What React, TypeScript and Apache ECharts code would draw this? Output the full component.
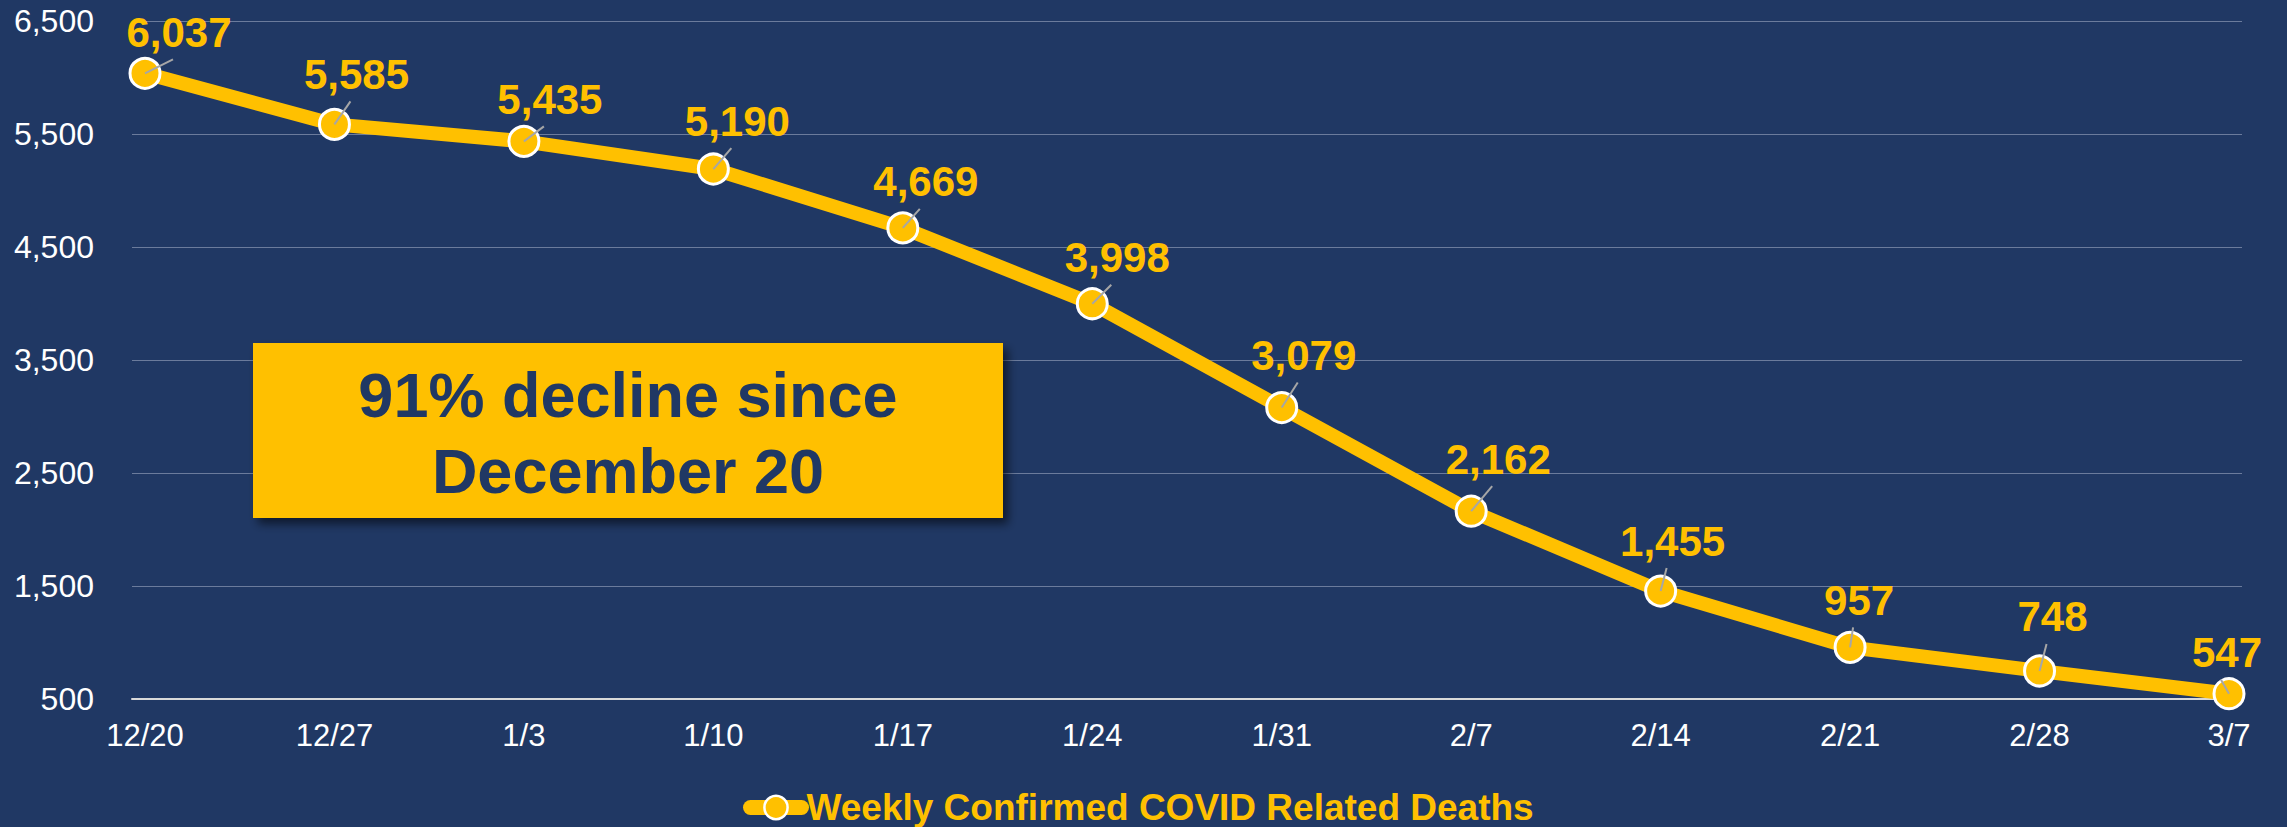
import React, { useEffect, useRef } from "react";
import * as echarts from "echarts";

const categories = ["12/20", "12/27", "1/3", "1/10", "1/17", "1/24", "1/31", "2/7", "2/14", "2/21", "2/28", "3/7"];
const deaths = [6037, 5585, 5435, 5190, 4669, 3998, 3079, 2162, 1455, 957, 748, 547];
const seriesName = "Weekly Confirmed COVID Related Deaths";
const yMin = 500;
const yMax = 6500;
const yInterval = 1000;
const annotationLines = ["91% decline since", "December 20"];

// label placement (style, not data): offset of each data label from its point
const labelOffsets: number[][] = [
  [34, -41], [22, -50], [26, -42], [24, -48], [23, -46], [25, -46],
  [22, -52], [27, -52], [12, -50], [9, -47], [13, -54], [-2, -41],
];

const BG = "#203864";
const GOLD = "#FFC000";
const FONT = "Arial, 'Liberation Sans', sans-serif";
const fmt = (v: number) => Number(v).toLocaleString("en-US");

export default function App() {
  const ref = useRef<HTMLDivElement>(null);
  useEffect(() => {
    if (!ref.current) return;
    const chart = echarts.init(ref.current, undefined, { renderer: "svg" });
    const option: any = {
      animation: false,
      backgroundColor: BG,
      textStyle: { fontFamily: FONT },
      grid: [
        { left: 132, right: 45, top: 21, bottom: 128, containLabel: false },
        { left: 145, right: 58, top: 21, bottom: 128, containLabel: false },
      ],
      xAxis: [
        {
          gridIndex: 0, type: "value", min: 0, max: 1,
          axisLabel: { show: false }, axisTick: { show: false }, splitLine: { show: false },
          axisLine: { show: true, lineStyle: { color: "#d9d9d9", width: 2 } },
        },
        {
          gridIndex: 1, type: "category", data: categories, boundaryGap: false,
          axisLine: { show: false }, axisTick: { show: false }, splitLine: { show: false },
          axisLabel: { color: "#ffffff", fontSize: 31, fontFamily: FONT, margin: 21, interval: 0 },
        },
      ],
      yAxis: [
        {
          gridIndex: 0, type: "value", min: yMin, max: yMax, interval: yInterval,
          axisLine: { show: false }, axisTick: { show: false },
          axisLabel: { color: "#ffffff", fontSize: 32, fontFamily: FONT, margin: 38, formatter: (v: number) => fmt(v) },
          splitLine: { show: true, lineStyle: { color: "#6b7b9c", width: 1 } },
        },
        {
          gridIndex: 1, type: "value", min: yMin, max: yMax, interval: yInterval, show: false,
          splitLine: { show: false },
        },
      ],
      legend: {
        data: [seriesName],
        left: 738,
        top: 784,
        itemWidth: 51,
        itemHeight: 29,
        itemGap: 0,
        lineStyle: { width: 15, cap: "round", color: GOLD },
        itemStyle: { color: GOLD, borderColor: "#ffffff", borderWidth: 2.5 },
        textStyle: { color: GOLD, fontSize: 37, fontWeight: "bold", fontFamily: FONT },
      },
      series: [
        {
          name: seriesName,
          type: "line",
          xAxisIndex: 1,
          yAxisIndex: 1,
          z: 3,
          data: deaths.map((v, i) => ({ value: v, label: { offset: labelOffsets[i] } })),
          lineStyle: { color: GOLD, width: 14 },
          symbol: "circle",
          symbolSize: 30,
          itemStyle: { color: GOLD, borderColor: "#ffffff", borderWidth: 3 },
          label: {
            show: true,
            position: "inside",
            color: GOLD,
            fontSize: 42,
            fontWeight: "bold",
            fontFamily: FONT,
            formatter: (p: any) => fmt(p.value),
          },
        },
        {
          name: "leaders",
          type: "custom",
          xAxisIndex: 1,
          yAxisIndex: 1,
          z: 4,
          silent: true,
          data: deaths.map((v, i) => [i, v]),
          renderItem: (params: any, api: any) => {
            const p = api.coord([api.value(0), api.value(1)]);
            const off = labelOffsets[params.dataIndex];
            return {
              type: "line",
              shape: { x1: p[0], y1: p[1], x2: p[0] + off[0] - 6, y2: p[1] + off[1] + 27 },
              style: { stroke: "#a6a6a6", lineWidth: 2 },
            };
          },
        },
      ],
      graphic: [
        {
          type: "rect",
          z: 20,
          shape: { x: 253, y: 343, width: 750, height: 175 },
          style: {
            fill: GOLD,
            shadowBlur: 10,
            shadowOffsetX: 5,
            shadowOffsetY: 6,
            shadowColor: "rgba(0,0,0,0.55)",
          },
        },
        {
          type: "text",
          z: 21,
          x: 628,
          y: 433,
          style: {
            text: annotationLines.join("\n"),
            fill: BG,
            fontSize: 63,
            fontWeight: "bold",
            fontFamily: FONT,
            lineHeight: 76,
            align: "center",
            verticalAlign: "middle",
          },
        },
      ],
    };
    chart.setOption(option);
    return () => chart.dispose();
  }, []);
  return (
    <div
      ref={ref}
      style={{ position: "fixed", left: 0, top: 0, width: 2287, height: 827 }}
    />
  );
}
